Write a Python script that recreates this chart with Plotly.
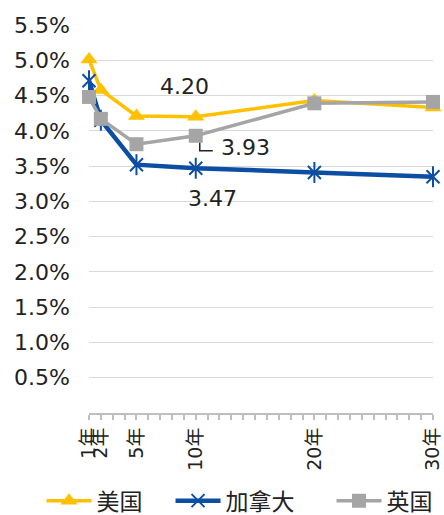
import plotly.graph_objects as go

years = [1, 2, 5, 10, 20, 30]
tick_text = ["1年", "2年", "5年", "10年", "20年", "30年"]
us = [5.01, 4.58, 4.21, 4.20, 4.43, 4.33]
ca = [4.71, 4.15, 3.52, 3.47, 3.41, 3.35]
uk = [4.48, 4.17, 3.81, 3.93, 4.39, 4.41]
names = ["美国", "加拿大", "英国"]
y_ticks = [0.5, 1.0, 1.5, 2.0, 2.5, 3.0, 3.5, 4.0, 4.5, 5.0, 5.5]

YEL = "#FFC000"
BLU = "#0B4EA2"
GRY = "#A5A5A5"
FONT = "DejaVu Sans, Noto Sans CJK SC, sans-serif"

fig = go.Figure()
fig.add_trace(go.Scatter(x=years, y=us, name=names[0], mode="lines+markers",
                         line=dict(color=YEL, width=3.5), legend="legend",
                         marker=dict(symbol="triangle-up", size=15, color=YEL),
                         cliponaxis=False))
fig.add_trace(go.Scatter(x=years, y=ca, name=names[1], mode="lines+markers",
                         line=dict(color=BLU, width=4.5), legend="legend2",
                         marker=dict(symbol="x-thin-open", size=13, color=BLU,
                                     line=dict(color=BLU, width=2)),
                         cliponaxis=False))
fig.add_trace(go.Scatter(x=years, y=ca, mode="markers", showlegend=False,
                         marker=dict(symbol="line-ns-open", size=15, color=BLU,
                                     line=dict(color=BLU, width=2)),
                         cliponaxis=False, hoverinfo="skip"))
fig.add_trace(go.Scatter(x=years, y=uk, name=names[2], mode="lines+markers",
                         line=dict(color=GRY, width=3.5), legend="legend3",
                         marker=dict(symbol="square", size=14, color=GRY),
                         cliponaxis=False))

# data labels at 10年
i10 = years.index(10)
lab_font = dict(size=22, color="#222", family=FONT)
fig.add_annotation(x=10, y=us[i10], text=f"{us[i10]:.2f}", showarrow=False,
                   xshift=-11, yshift=30, font=lab_font)
fig.add_annotation(x=10, y=uk[i10], text=f"{uk[i10]:.2f}", showarrow=False,
                   xshift=50, yshift=-12, font=lab_font)
fig.add_annotation(x=10, y=ca[i10], text=f"{ca[i10]:.2f}", showarrow=False,
                   xshift=17, yshift=-30, font=lab_font)
fig.add_shape(type="path", xref="x", yref="y", xsizemode="pixel", ysizemode="pixel",
              xanchor=10, yanchor=uk[i10], path="M 4,-7 L 4,-15 L 17,-15",
              line=dict(color="#222", width=1.5))

leg_common = dict(orientation="h", xanchor="left", y=-0.226, yanchor="middle",
                  bgcolor="rgba(0,0,0,0)", font=dict(size=23), itemwidth=45)

fig.update_layout(
    width=444, height=515,
    margin=dict(l=89, r=11, t=25, b=102, autoexpand=False),
    paper_bgcolor="white", plot_bgcolor="white",
    font=dict(family=FONT, size=22, color="#222"),
    showlegend=True,
    legend=dict(x=-0.138, **leg_common),
    legend2=dict(x=0.237, **leg_common),
    legend3=dict(x=0.705, **leg_common),
    xaxis=dict(range=[1, 30], tickvals=years, ticktext=tick_text, tickangle=-90,
               automargin=False,
               showgrid=False, zeroline=False, showline=True, linecolor="#BFBFBF",
               linewidth=2, ticks="outside", ticklen=5, tickcolor="#BFBFBF",
               tickwidth=2, tickfont=dict(size=19),
               minor=dict(dtick=1, tick0=0, ticks="outside", ticklen=5,
                          tickcolor="#BFBFBF", tickwidth=2)),
    yaxis=dict(range=[0, 5.5], tickvals=y_ticks, automargin=False,
               ticktext=[f"{v:.1f}%" for v in y_ticks],
               showgrid=True, gridcolor="#D9D9D9", gridwidth=1, zeroline=False,
               showline=False, ticks="", ticklabelstandoff=18),
)

fig.write_html("out.html")
